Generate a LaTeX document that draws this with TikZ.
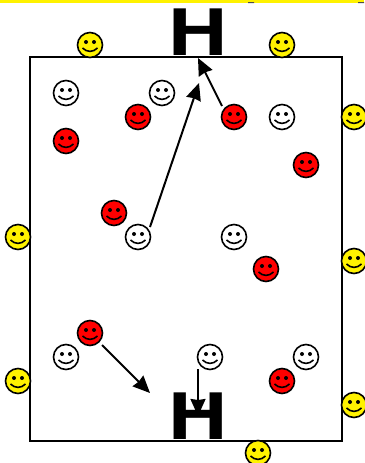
\documentclass[tikz,border=0pt]{standalone}
\usepackage{fontspec}
\newfontfamily\goalfont{TeX Gyre Heros}
\usetikzlibrary{arrows.meta,positioning}
\tikzset{
  smiley/.style={circle,draw=black,line width=1.6,fill=#1,minimum size=25,inner sep=0,
    path picture={
      \fill[black] ([shift={(-4,-3)}]path picture bounding box.center) circle (2);
      \fill[black] ([shift={(4,-3)}]path picture bounding box.center) circle (2);
      \draw[line width=1.6] ([shift={(-7.5,3)}]path picture bounding box.center)
        .. controls ([shift={(-3,7.5)}]path picture bounding box.center) and ([shift={(3,7.5)}]path picture bounding box.center)
        .. ([shift={(7.5,3)}]path picture bounding box.center);
    }},
  goal/.style={font=\goalfont\bfseries\fontsize{64}{64}\selectfont,inner sep=0,xscale=1.28},
  run/.style={-{Stealth[length=17,width=15,inset=1]},line width=2}
}
\begin{document}
\begin{tikzpicture}[x=1pt,y=-1pt]
\useasboundingbox (0,0) rectangle (364,463);
\fill[yellow] (0,0) rectangle (364,3);
\fill[black!70] (248,2) rectangle (254,3) (358,2) rectangle (364,3);
\draw[line width=1.5] (30,57) rectangle (342,441);
\node[goal] (goaltop) at (198,32) {H};
\node[goal] (goalbot) at (198,416) {H};
% yellow ones round the field
\foreach \n/\x/\y in {1/90/45,2/282/45,3/354/117,4/18/237,5/354/261,6/18/381,7/354/405,8/258/453}
  \node[smiley=yellow] (yel\n) at (\x,\y) {};
\foreach \n/\x/\y in {1/66/93,2/162/93,3/282/117,4/138/237,5/234/237,6/66/357,7/210/357,8/306/357}
  \node[smiley=white] (wht\n) at (\x,\y) {};
\foreach \n/\x/\y in {1/138/117,2/234/117,3/66/141,4/306/165,5/114/213,6/266/269,7/90/333,8/282/381}
  \node[smiley=red] (red\n) at (\x,\y) {};
\coordinate (runa) at (199,83);
\coordinate (runb) at (198,58);
\coordinate (runc) at (150,393);
\coordinate (rund) at (198,416);
\coordinate (startd) at (198,369);
\draw[run] (wht4) ++(12,-10) -- (runa);
\draw[run] (red2) ++(-12,-11) -- (runb);
\draw[run] (red7) ++(12,12) -- (runc);
\draw[run] (startd) -- (rund);
\end{tikzpicture}
\end{document}
